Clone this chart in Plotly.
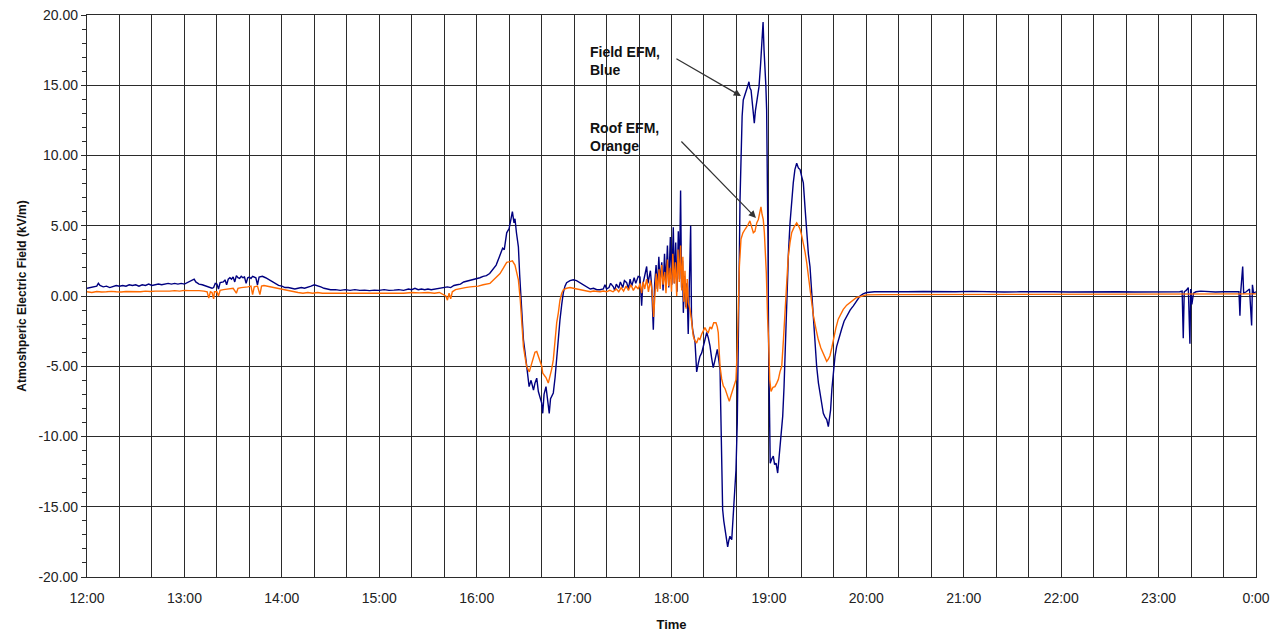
import plotly.graph_objects as go

# ---- data (minutes after 12:00, kV/m) ----
blue_t = [0,2,4,6,7,8,10,12,14,16,18,20,22,24,26,28,30,32,34,36,38,40,42,44,46,48,50,52,54,56,58,60,62,64,66,67,69,71,73,75,77,78,79,80,81,82,84,85,86,87,88,89,90,91,92,93,94,95,96,97,98,99,100,101,102,104,105,106,108,110,112,114,116,118,120,122,124,126,128,130,132,134,136,138,140,142,144,146,148,150,153,156,159,162,165,168,171,174,177,180,183,186,189,192,195,198,200,202,204,206,208,210,212,214,216,218,220,222,224,226,228,230,232,234,236,238,240,242,244,246,248,250,252,254,256,257,258.5,260,261,262,263,263.6,264.5,265.7,266.5,267.7,268.8,270,270.8,272.3,273.5,275,275.9,277,278,279,280,280.7,281.5,282.7,283.7,284.7,285.5,287.2,288.3,289.3,290.3,291.3,292.4,293.4,294.4,295.4,297.5,299.5,301.5,303.6,305.5,307.8,310,312,314,316,318,319,320,321.5,322.5,324.2,325,326,327.5,328.5,330,331,332.4,333.5,334.5,335.5,337,338,339.5,340.6,341.6,342.3,343.5,344.7,345.5,347,347.8,348.8,349.6,350.5,351.3,352.2,352.9,354,354.8,355.7,356.5,357.5,358.3,359.3,360.2,361.1,361.8,362.6,363.4,364.2,364.9,365.6,366.2,366.8,367.3,368,368.8,369.5,370.3,371,371.8,372.3,373,374.5,375.5,376.5,377.5,378.6,379.8,380.8,381.7,382.7,383.7,384.7,385.7,386.7,388.2,389.2,389.9,390.3,390.6,391,391.5,392.2,392.9,393.8,394.6,395.3,396,397.1,398.1,399,399.7,400.5,401.1,401.6,402.2,402.8,403.5,404.2,405.3,406.3,407.1,407.7,408.3,409,409.7,410.4,411,411.7,412.5,413.2,413.9,414.9,415.5,415.9,416.4,417,417.6,418.1,418.6,419,419.4,419.8,420.3,420.8,421.7,422.7,423.5,424.4,425.4,426.2,426.8,427.6,428.5,429.3,429.9,430.9,432,433,434,435,436,437.1,438.2,439.2,440.2,441.2,442.3,443.3,444.3,445.3,446.4,447.4,448.4,449.4,450.5,451.5,452.5,453.5,454.5,455.6,456.6,457.3,458,458.8,459.7,460.7,461.7,463.2,464.8,466.3,467.9,470,472,474,476.1,478,480.2,485,495,505,515,525,535,545,555,565,575,585,595,605,615,625,635,645,655,662,668,673,674.5,675.2,675.8,677,678.3,678.8,679.3,679.8,680.5,681.5,683,686,690,695,700,705,709.5,710.1,710.6,711.8,712.4,714,716,717.3,717.8,718.5,720]
blue_v = [0.55,0.6,0.65,0.7,0.9,0.75,0.65,0.7,0.6,0.65,0.75,0.7,0.75,0.7,0.8,0.75,0.8,0.7,0.8,0.75,0.85,0.75,0.8,0.85,0.8,0.85,0.9,0.85,0.9,0.85,0.9,0.85,0.95,1.05,1.2,1.0,0.85,0.8,0.7,0.65,0.55,0.6,0.9,0.85,0.5,0.95,1.0,1.15,0.8,1.2,1.3,1.2,1.35,1.0,1.45,1.3,1.25,1.4,1.3,1.35,0.9,1.3,1.35,1.25,1.4,1.3,0.8,1.35,1.4,1.3,1.15,1.0,0.85,0.75,0.7,0.6,0.6,0.55,0.5,0.55,0.6,0.55,0.6,0.7,0.8,0.75,0.65,0.55,0.5,0.45,0.45,0.4,0.45,0.4,0.45,0.4,0.42,0.38,0.42,0.4,0.45,0.4,0.42,0.45,0.4,0.5,0.45,0.55,0.45,0.5,0.45,0.5,0.45,0.5,0.55,0.55,0.6,0.65,0.6,0.75,0.8,0.85,1.0,1.05,1.15,1.15,1.25,1.3,1.4,1.45,1.6,1.9,2.2,2.8,3.4,3.3,4.5,4.8,5.3,6.0,5.2,5.5,4.5,3.5,1.5,-1.2,-3.1,-4.2,-5.0,-6.45,-6.0,-6.7,-6.2,-5.85,-6.8,-7.2,-7.6,-8.35,-7.0,-6.45,-7.5,-8.35,-7.3,-6.9,-5.8,-4.3,-2.8,-1.7,-0.6,0.25,0.7,0.95,1.1,1.15,1.1,0.95,0.8,0.6,0.5,0.55,0.45,0.45,0.5,0.8,0.5,0.6,0.9,0.65,0.4,0.85,0.55,1.0,0.6,1.1,0.95,0.5,1.2,0.7,1.3,0.9,1.4,1.35,-0.7,0.8,1.6,2.1,0.9,1.8,0.7,-2.4,0.8,2.2,0.5,2.8,1.0,2.4,0.4,3.0,0.9,3.6,0.6,4.2,0.8,4.9,0.9,3.8,0.3,4.6,1.2,7.5,0.6,2.5,-1.2,1.4,-0.8,0.9,-2.7,0.2,5.0,-1.4,-2.4,-3.3,-5.4,-4.8,-4.3,-4.05,-3.4,-2.9,-2.6,-3.0,-3.55,-4.4,-5.1,-4.6,-3.8,-4.6,-5.25,-7.85,-10.5,-12.1,-15.2,-16.0,-16.65,-17.2,-17.85,-17.4,-17.1,-17.35,-15.5,-14.0,-12.4,-9.05,-4.75,1.0,6.85,10.9,12.8,13.95,14.3,14.65,15.0,15.25,14.8,14.65,13.8,13.25,12.3,13.2,13.95,14.4,14.9,16.55,17.5,18.2,19.5,17.5,16.3,15.0,13.25,9.45,4.0,-3.3,-8.8,-11.9,-11.6,-11.4,-12.0,-11.9,-12.6,-11.6,-10.7,-9.6,-8.55,-6.5,-4.5,0.25,3.0,5.2,6.8,8.05,9.0,9.45,9.1,9.0,8.5,8.05,6.2,4.5,3.0,2.1,0.2,-1.65,-3.5,-5.0,-6.2,-6.9,-7.8,-8.35,-8.6,-8.8,-9.3,-8.7,-8.1,-6.6,-5.2,-4.3,-3.6,-2.9,-2.35,-1.8,-1.4,-1.0,-0.7,-0.35,0.0,0.15,0.25,0.3,0.28,0.3,0.32,0.3,0.3,0.33,0.3,0.28,0.3,0.32,0.3,0.28,0.3,0.27,0.3,0.28,0.3,0.27,0.3,0.3,0.35,-3.0,0.3,0.4,0.6,-2.0,-3.4,0.5,-0.6,0.2,0.3,0.35,0.3,0.28,0.3,0.3,0.3,-1.4,0.3,2.1,0.2,0.3,0.5,-2.1,0.8,0.2,0.3]

orange_t = [0,3,6,9,12,15,18,21,24,27,30,33,36,39,42,45,48,51,54,57,60,63,66,69,72,74,75,76,77,78,78.5,80,81,82,84,86,88,90,92,93,95,97,99,101,102,103,105,106.5,107.5,109,111,113,115,117,119,121,123,125,127,130,133,136,139,142,145,148,151,155,160,165,170,175,180,185,190,195,200,205,210,214,217,219,221,222,223,224,225,227,230,233,236,238,241,244,246,248.2,250,252,254.4,256.5,258.5,260.5,262,263.6,264.8,265.7,266.8,267.7,268.8,270,270.8,272.4,273.6,274.9,275.9,277,278,279,280.1,280.7,282.7,284.1,285.2,286.2,287.2,288.2,289.3,290.3,291.3,292.4,293.4,295.4,297.5,299.5,303.6,307.8,310,312,314,316,318,320,322,324,326,327.5,329,330.5,332,333.5,335,336.5,338,339.5,340.6,341.6,342.5,343.5,344.7,345.8,347,348,349,349.8,350.6,351.4,352.3,353,354,354.8,355.8,356.6,357.5,358.3,359.2,360,360.8,361.6,362.4,363.2,364,364.8,365.6,366.3,367,367.6,368.3,369,369.7,370.4,371.4,372.4,373.4,374.5,375.5,376.5,377.5,378.6,379.6,380.6,381.7,382.7,383.7,384.7,386,387.4,388.2,388.8,389.4,389.9,390.9,391.9,393,394,394.8,395.6,396.6,397.7,398.7,399.7,400.5,401.2,401.8,402.8,404,405.3,406.8,408.3,409.4,410.4,411.4,412.5,413.5,414.3,415.1,415.8,416.5,417.2,417.6,418.4,419.2,419.8,420.5,421.3,422.5,423.7,424.8,425.8,426.8,427.9,429,429.9,430.9,431.9,433,434,435.5,437.1,438.2,439.2,440.2,441.2,442.3,443.3,444.3,445.3,446.4,447.4,448.9,450.4,452,453.5,454.5,455.6,456.6,457.6,458.7,459.7,461.2,462.7,464.2,465.8,467.9,469.9,472,474,476,478.1,480,490,500,510,520,530,540,550,560,570,580,590,600,610,620,630,640,650,660,670,680,690,700,710,720]
orange_v = [0.3,0.25,0.32,0.28,0.3,0.33,0.3,0.28,0.32,0.3,0.33,0.3,0.35,0.32,0.35,0.33,0.35,0.35,0.38,0.35,0.4,0.38,0.4,0.38,0.35,0.3,-0.15,0.3,0.25,-0.2,0.3,0.3,0.0,0.4,0.45,0.5,0.5,0.55,0.2,0.55,0.6,0.6,0.65,0.7,0.1,0.65,0.7,0.1,0.7,0.75,0.7,0.65,0.6,0.55,0.5,0.45,0.4,0.35,0.3,0.25,0.2,0.25,0.2,0.25,0.2,0.2,0.18,0.2,0.18,0.2,0.18,0.2,0.22,0.2,0.22,0.2,0.25,0.22,0.25,0.2,0.25,0.15,0.0,-0.3,0.2,-0.2,0.3,0.45,0.55,0.6,0.65,0.65,0.7,0.8,0.85,0.9,1.1,1.3,1.6,2.0,2.4,2.45,2.5,2.2,1.7,1.15,-0.2,-1.9,-3.6,-4.5,-5.0,-5.4,-4.9,-4.3,-4.0,-3.95,-4.3,-4.55,-5.0,-5.5,-5.8,-6.2,-5.75,-5.2,-4.55,-3.1,-1.9,-1.2,-0.3,0.2,0.45,0.55,0.6,0.55,0.45,0.35,0.3,0.35,0.3,0.3,0.35,0.3,0.4,0.3,0.5,0.3,0.6,0.35,0.7,0.4,0.8,0.4,0.7,0.5,0.9,0.2,1.0,0.5,1.2,0.3,1.1,0.4,-1.5,0.6,1.6,0.3,1.9,0.5,2.2,0.8,1.7,0.2,2.6,0.7,2.0,0.3,3.0,0.9,2.4,0.0,3.3,1.0,3.6,0.4,2.8,-0.4,1.8,-0.9,1.2,-0.5,-0.95,-1.8,-2.85,-3.2,-3.35,-3.0,-3.1,-2.7,-2.5,-2.25,-2.5,-2.6,-2.2,-2.35,-1.9,-1.9,-2.2,-2.6,-4.0,-5.0,-5.9,-6.4,-6.6,-6.9,-7.2,-7.5,-7.1,-6.7,-6.3,-5.95,-3.8,-0.8,2.1,4.05,4.5,4.75,5.0,5.35,4.9,4.5,4.6,5.2,5.45,5.9,6.35,5.8,5.45,4.5,3.5,1.65,-1.65,-3.1,-5.95,-6.8,-6.5,-6.45,-6.2,-5.95,-5.4,-5.0,-3.0,-1.2,0.9,2.8,3.8,4.5,4.9,5.2,5.0,4.75,4.3,3.8,3.1,2.35,1.4,0.5,-0.5,-1.4,-2.3,-3.1,-3.7,-4.15,-4.45,-4.65,-4.5,-4.25,-3.7,-3.1,-2.3,-1.65,-1.25,-0.95,-0.65,-0.45,-0.25,-0.1,-0.05,0.0,0.08,0.1,0.1,0.12,0.1,0.1,0.12,0.1,0.1,0.12,0.1,0.1,0.11,0.1,0.1,0.12,0.1,0.1,0.1,0.12,0.1,0.1,0.12,0.12,0.15]

tick_vals = [0, 60, 120, 180, 240, 300, 360, 420, 480, 540, 600, 660, 720]
tick_text = ["12:00", "13:00", "14:00", "15:00", "16:00", "17:00", "18:00",
             "19:00", "20:00", "21:00", "22:00", "23:00", "0:00"]
y_tick_vals = [-20, -15, -10, -5, 0, 5, 10, 15, 20]
y_tick_text = ["-20.00", "-15.00", "-10.00", "-5.00", "0.00", "5.00", "10.00", "15.00", "20.00"]

FONT = "Liberation Sans, Arial, sans-serif"
GRID = "#2b2b2b"

fig = go.Figure()
fig.add_trace(go.Scatter(x=blue_t, y=blue_v, mode="lines", name="Field EFM",
                         line=dict(color="#000080", width=1.4)))
fig.add_trace(go.Scatter(x=orange_t, y=orange_v, mode="lines", name="Roof EFM",
                         line=dict(color="#FF6A00", width=1.4)))

# page body has an 8px default margin, so the figure is sized/offset to compensate
fig.update_layout(
    width=1272, height=624,
    margin=dict(l=79, r=24, t=7, b=55),
    paper_bgcolor="white", plot_bgcolor="white",
    showlegend=False,
    font=dict(family=FONT, size=14, color="#222"),
    xaxis=dict(
        range=[0, 720], tickmode="array", tickvals=tick_vals, ticktext=tick_text,
        showgrid=True, gridcolor=GRID, gridwidth=1.2,
        minor=dict(dtick=20, tick0=0, showgrid=True, gridcolor=GRID, gridwidth=1.2),
        showline=True, mirror=True, linecolor=GRID, linewidth=1.2,
        zeroline=False, ticks="", ticklabelstandoff=8, automargin=False,
        ticklabeloverflow="allow",
        tickfont=dict(size=14, color="#222"),
        title=dict(text="<b>Time</b>", font=dict(size=13, color="#111"), standoff=14),
    ),
    yaxis=dict(
        range=[-20, 20], tickmode="array", tickvals=y_tick_vals, ticktext=y_tick_text,
        showgrid=True, gridcolor=GRID, gridwidth=1.2,
        minor=dict(dtick=1, tick0=0, ticks="outside", ticklen=4, tickcolor=GRID,
                   showgrid=False),
        ticks="outside", ticklen=5, tickcolor=GRID,
        showline=True, mirror=True, linecolor=GRID, linewidth=1.2,
        zeroline=False, automargin=False, ticklabeloverflow="allow",
        tickfont=dict(size=14, color="#222"),
        title=dict(text="<b>Atmoshperic Electric Field (kV/m)</b>",
                   font=dict(size=12, color="#111"), standoff=9),
    ),
)

fig.add_annotation(x=308.6, y=18.1, xref="x", yref="y", xanchor="left", yanchor="top",
                   align="left", showarrow=False,
                   text="<b>Field EFM,<br>Blue</b>", font=dict(size=14, color="#111"))
fig.add_annotation(x=308.6, y=12.7, xref="x", yref="y", xanchor="left", yanchor="top",
                   align="left", showarrow=False,
                   text="<b>Roof EFM,<br>Orange</b>", font=dict(size=14, color="#111"))
fig.add_annotation(x=402.8, y=14.23, ax=362.1, ay=16.94, xref="x", yref="y",
                   axref="x", ayref="y", text="", showarrow=True, arrowhead=2,
                   arrowsize=1.2, arrowwidth=1.2, arrowcolor="#333")
fig.add_annotation(x=412.0, y=5.55, ax=365.2, ay=11.1, xref="x", yref="y",
                   axref="x", ayref="y", text="", showarrow=True, arrowhead=2,
                   arrowsize=1.2, arrowwidth=1.2, arrowcolor="#333")

fig.write_html("out.html")
